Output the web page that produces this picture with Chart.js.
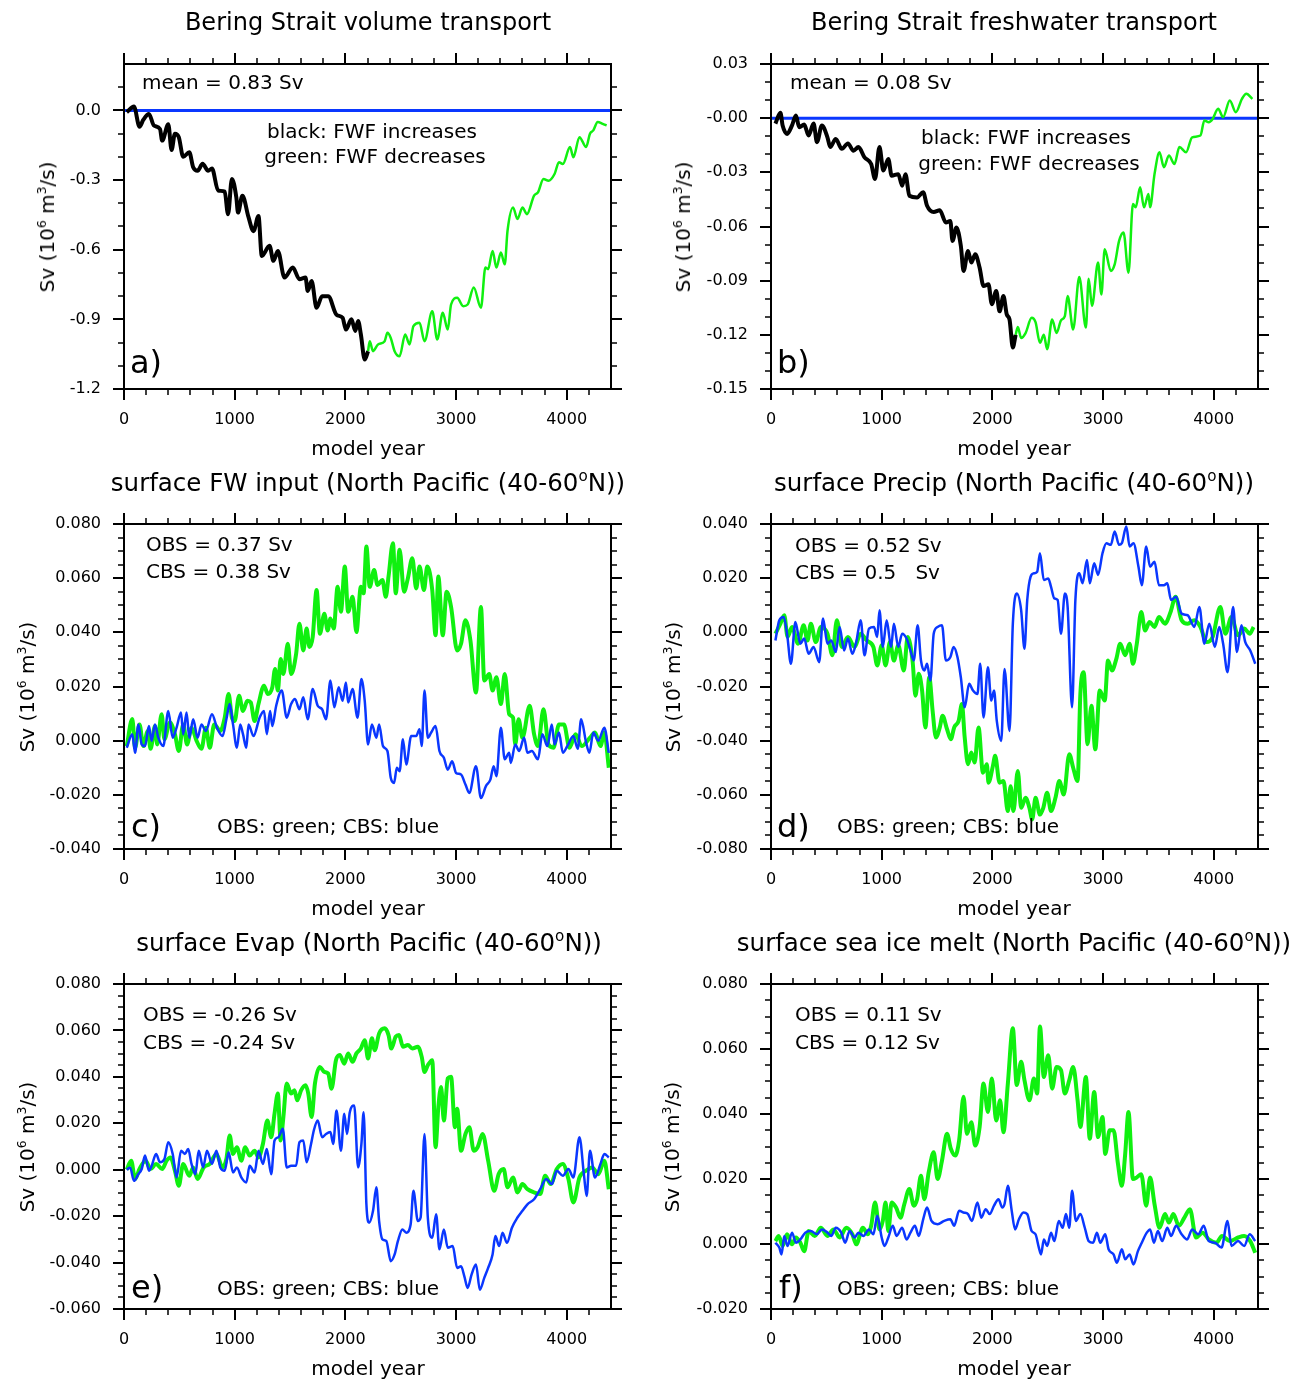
<!DOCTYPE html>
<html>
<head>
<meta charset="utf-8">
<script src="https://cdn.jsdelivr.net/npm/chart.js@4.4.1/dist/chart.umd.min.js"></script>
<style>
  body { margin: 0; background: #fff; }
  #fig { position: relative; width: 1302px; height: 1380px; overflow: hidden; }
  canvas { position: absolute; }
  .t { position: absolute; font-family: 'DejaVu Sans', sans-serif; color: #000; white-space: pre; line-height: 1; }
  .c { transform: translate(-50%, -50%); }
  .l { transform: translateY(-50%); }
  .title { font-size: 24px; }
  .title2 { font-size: 24.5px; }
  .ax { font-size: 20px; }
  .note { font-size: 20px; }
  .tag { font-size: 32px; }
  .ylab { font-size: 20px; transform: translate(-50%, -50%) rotate(-90deg); }
  sup { font-size: 0.62em; vertical-align: 0.65em; line-height: 0; }
</style>
</head>
<body>
<div id="fig">
  <canvas id="pa" width="650" height="460" style="left:0;top:0"></canvas>
  <canvas id="pb" width="652" height="460" style="left:650px;top:0"></canvas>
  <canvas id="pc" width="650" height="460" style="left:0;top:460px"></canvas>
  <canvas id="pd" width="652" height="460" style="left:650px;top:460px"></canvas>
  <canvas id="pe" width="650" height="460" style="left:0;top:920px"></canvas>
  <canvas id="pf" width="652" height="460" style="left:650px;top:920px"></canvas>

  <!-- titles -->
  <div class="t c title" style="left:368px;top:22px">Bering Strait volume transport</div>
  <div class="t c title" style="left:1014px;top:22px">Bering Strait freshwater transport</div>
  <div class="t c title2" style="left:368px;top:483px">surface FW input (North Pacific (40-60<sup>o</sup>N))</div>
  <div class="t c title2" style="left:1014px;top:483px">surface Precip (North Pacific (40-60<sup>o</sup>N))</div>
  <div class="t c title2" style="left:369px;top:943px">surface Evap (North Pacific (40-60<sup>o</sup>N))</div>
  <div class="t c title2" style="left:1014px;top:943px">surface sea ice melt (North Pacific (40-60<sup>o</sup>N))</div>

  <!-- x axis titles -->
  <div class="t c ax" style="left:368px;top:448px">model year</div>
  <div class="t c ax" style="left:1014px;top:448px">model year</div>
  <div class="t c ax" style="left:368px;top:908px">model year</div>
  <div class="t c ax" style="left:1014px;top:908px">model year</div>
  <div class="t c ax" style="left:368px;top:1368px">model year</div>
  <div class="t c ax" style="left:1014px;top:1368px">model year</div>

  <!-- y axis titles -->
  <div class="t ylab" style="left:47px;top:227px">Sv (10<sup>6</sup> m<sup>3</sup>/s)</div>
  <div class="t ylab" style="left:683px;top:227px">Sv (10<sup>6</sup> m<sup>3</sup>/s)</div>
  <div class="t ylab" style="left:27px;top:687px">Sv (10<sup>6</sup> m<sup>3</sup>/s)</div>
  <div class="t ylab" style="left:673px;top:687px">Sv (10<sup>6</sup> m<sup>3</sup>/s)</div>
  <div class="t ylab" style="left:27px;top:1147px">Sv (10<sup>6</sup> m<sup>3</sup>/s)</div>
  <div class="t ylab" style="left:672px;top:1147px">Sv (10<sup>6</sup> m<sup>3</sup>/s)</div>

  <!-- notes inside the panels -->
  <div class="t l note" style="left:142px;top:82px">mean = 0.83 Sv</div>
  <div class="t c note" style="left:372px;top:131px">black: FWF increases</div>
  <div class="t c note" style="left:375px;top:156px">green: FWF decreases</div>
  <div class="t l tag" style="left:130px;top:362px">a)</div>

  <div class="t l note" style="left:790px;top:82px">mean = 0.08 Sv</div>
  <div class="t c note" style="left:1026px;top:137px">black: FWF increases</div>
  <div class="t c note" style="left:1029px;top:163px">green: FWF decreases</div>
  <div class="t l tag" style="left:777px;top:362px">b)</div>

  <div class="t l note" style="left:146px;top:544px">OBS = 0.37 Sv</div>
  <div class="t l note" style="left:146px;top:571px">CBS = 0.38 Sv</div>
  <div class="t l note" style="left:217px;top:826px">OBS: green; CBS: blue</div>
  <div class="t l tag" style="left:131px;top:826px">c)</div>

  <div class="t l note" style="left:795px;top:545px">OBS = 0.52 Sv</div>
  <div class="t l note" style="left:795px;top:572px">CBS = 0.5   Sv</div>
  <div class="t l note" style="left:837px;top:826px">OBS: green; CBS: blue</div>
  <div class="t l tag" style="left:777px;top:826px">d)</div>

  <div class="t l note" style="left:143px;top:1014px">OBS = -0.26 Sv</div>
  <div class="t l note" style="left:143px;top:1042px">CBS = -0.24 Sv</div>
  <div class="t l note" style="left:217px;top:1288px">OBS: green; CBS: blue</div>
  <div class="t l tag" style="left:131px;top:1287px">e)</div>

  <div class="t l note" style="left:795px;top:1014px">OBS = 0.11 Sv</div>
  <div class="t l note" style="left:795px;top:1042px">CBS = 0.12 Sv</div>
  <div class="t l note" style="left:837px;top:1288px">OBS: green; CBS: blue</div>
  <div class="t l tag" style="left:779px;top:1287px">f)</div>
</div>

<script>
// ---- axis ticks ----
const xTicks = [0, 1000, 2000, 3000, 4000];
const xTickLabels = ['0', '1000', '2000', '3000', '4000'];

const aTicks = [-1.2, -0.9, -0.6, -0.3, 0.0];
const aTickLabels = ['-1.2', '-0.9', '-0.6', '-0.3', '0.0'];
const bTicks = [-0.15, -0.12, -0.09, -0.06, -0.03, 0, 0.03];
const bTickLabels = ['-0.15', '-0.12', '-0.09', '-0.06', '-0.03', '-0.00', '0.03'];
const cTicks = [-0.04, -0.02, 0, 0.02, 0.04, 0.06, 0.08];
const cTickLabels = ['-0.040', '-0.020', '0.000', '0.020', '0.040', '0.060', '0.080'];
const dTicks = [-0.08, -0.06, -0.04, -0.02, 0, 0.02, 0.04];
const dTickLabels = ['-0.080', '-0.060', '-0.040', '-0.020', '0.000', '0.020', '0.040'];
const eTicks = [-0.06, -0.04, -0.02, 0, 0.02, 0.04, 0.06, 0.08];
const eTickLabels = ['-0.060', '-0.040', '-0.020', '0.000', '0.020', '0.040', '0.060', '0.080'];
const fTicks = [-0.02, 0, 0.02, 0.04, 0.06, 0.08];
const fTickLabels = ['-0.020', '0.000', '0.020', '0.040', '0.060', '0.080'];

// ---- a) Bering Strait volume transport ----
const zeroYears = [0, 4400];
const zeroSv = [0, 0];

const aBlackYears = [25, 90, 140, 175, 225, 270, 325, 345, 400, 430,
  460, 495, 535, 590, 625, 665, 710, 760, 795, 850,
  910, 940, 975, 1015, 1030, 1070, 1125, 1170, 1215, 1245,
  1315, 1350, 1390, 1450, 1525, 1585, 1640, 1660, 1695, 1740,
  1790, 1845, 1920, 1975, 2005, 2055, 2090, 2115, 2140, 2175,
  2205];
const aBlackSv = [-0.007, 0.017, -0.07, -0.04, -0.015, -0.065, -0.08, -0.13, -0.06, -0.17,
  -0.10, -0.115, -0.20, -0.18, -0.245, -0.26, -0.23, -0.26, -0.25, -0.345,
  -0.35, -0.447, -0.295, -0.375, -0.44, -0.367, -0.46, -0.52, -0.455, -0.627,
  -0.583, -0.648, -0.605, -0.72, -0.677, -0.727, -0.72, -0.778, -0.735, -0.85,
  -0.80, -0.80, -0.88, -0.893, -0.944, -0.90, -0.95, -0.907, -0.965, -1.073,
  -1.037];
const aGreenYears = [2205, 2220, 2250, 2295, 2355, 2380, 2410, 2445, 2490, 2540,
  2580, 2615, 2670, 2715, 2785, 2830, 2880, 2925, 2955, 3010,
  3065, 3105, 3160, 3225, 3265, 3290, 3330, 3365, 3405, 3440,
  3465, 3515, 3555, 3600, 3640, 3705, 3740, 3790, 3835, 3890,
  3930, 3965, 4030, 4060, 4115, 4175, 4210, 4240, 4280, 4325,
  4360];
const aGreenSv = [-1.037, -0.994, -1.037, -1.008, -0.994, -0.958, -0.98, -1.037, -1.059, -0.965,
  -1.008, -0.929, -0.915, -0.994, -0.865, -0.987, -0.872, -0.944, -0.836, -0.807,
  -0.843, -0.836, -0.763, -0.85, -0.677, -0.684, -0.605, -0.677, -0.612, -0.663,
  -0.519, -0.418, -0.468, -0.418, -0.447, -0.367, -0.353, -0.295, -0.303, -0.274,
  -0.223, -0.231, -0.158, -0.202, -0.115, -0.158, -0.10, -0.086, -0.05, -0.058,
  -0.065];

// ---- b) Bering Strait freshwater transport ----
const bBlackYears = [40, 85, 105, 145, 190, 225, 255, 300, 340, 385,
  415, 460, 510, 535, 585, 640, 695, 745, 790, 845,
  905, 940, 980, 1015, 1060, 1090, 1150, 1185, 1215, 1250,
  1320, 1375, 1410, 1470, 1525, 1580, 1620, 1640, 1675, 1715,
  1740, 1780, 1810, 1845, 1885, 1920, 1965, 1995, 2035, 2065,
  2100, 2130, 2155, 2185, 2210];
const bBlackSv = [-0.003, 0.003, -0.004, -0.0087, -0.004, 0.0015, -0.005, -0.0035, -0.0096, -0.003,
  -0.0133, -0.004, -0.0106, -0.016, -0.0115, -0.017, -0.014, -0.018, -0.016, -0.0217,
  -0.0254, -0.0337, -0.016, -0.029, -0.0226, -0.0319, -0.031, -0.0374, -0.031, -0.043,
  -0.0439, -0.041, -0.0485, -0.052, -0.051, -0.0578, -0.0569, -0.068, -0.0606, -0.0707,
  -0.0846, -0.0735, -0.08, -0.0754, -0.0828, -0.093, -0.092, -0.103, -0.0957, -0.107,
  -0.0985, -0.1087, -0.1115, -0.127, -0.12];
const bGreenYears = [2210, 2230, 2260, 2300, 2355, 2390, 2430, 2465, 2495, 2540,
  2580, 2620, 2655, 2680, 2730, 2785, 2845, 2870, 2900, 2955,
  2985, 3015, 3070, 3105, 3145, 3185, 3230, 3270, 3295, 3335,
  3370, 3410, 3425, 3465, 3510, 3550, 3595, 3645, 3690, 3750,
  3805, 3880, 3915, 3955, 3990, 4040, 4085, 4145, 4200, 4255,
  4295, 4350];
const bGreenSv = [-0.12, -0.1157, -0.1217, -0.119, -0.1106, -0.113, -0.1244, -0.12, -0.128, -0.1115,
  -0.119, -0.112, -0.1096, -0.0985, -0.117, -0.088, -0.116, -0.089, -0.104, -0.08,
  -0.0976, -0.0726, -0.0846, -0.081, -0.068, -0.0633, -0.0856, -0.0476, -0.0494, -0.0383,
  -0.0494, -0.042, -0.0494, -0.031, -0.0189, -0.0272, -0.0207, -0.0254, -0.016, -0.0189,
  -0.0106, -0.0096, -0.0013, -0.0022, -0.0004, 0.0052, 0.0006, 0.0098, 0.0033, 0.0107,
  0.0135, 0.0107];

// ---- c) surface FW input ----
const cGreenYears = [25, 75, 100, 140, 175, 215, 240, 280, 300, 340,
  365, 415, 460, 495, 535, 570, 610, 655, 700, 740,
  775, 815, 870, 910, 945, 975, 1000, 1040, 1075, 1115,
  1145, 1180, 1215, 1265, 1300, 1340, 1365, 1390, 1415, 1440,
  1480, 1510, 1555, 1585, 1620, 1650, 1675, 1705, 1740, 1770,
  1810, 1840, 1865, 1895, 1930, 1960, 1995, 2025, 2065, 2100,
  2140, 2165, 2190, 2220, 2260, 2290, 2335, 2365, 2390, 2430,
  2455, 2490, 2530, 2565, 2605, 2640, 2670, 2710, 2740, 2785,
  2815, 2840, 2880, 2915, 2955, 3010, 3045, 3085, 3130, 3180,
  3225, 3255, 3300, 3330, 3365, 3405, 3440, 3480, 3515, 3535,
  3565, 3600, 3665, 3705, 3740, 3790, 3835, 3880, 3930, 3975,
  4025, 4080, 4135, 4210, 4255, 4305, 4340, 4380];
const cGreenSv = [-0.002, 0.008, -0.0026, 0.006, -0.002, 0.0036, -0.003, 0.0054, -0.0014, 0.0098,
  0.0005, 0.0067, 0.0024, -0.0038, 0.006, -0.0014, 0.0048, 0.0, -0.003, 0.0048,
  -0.0026, 0.006, 0.0036, 0.0085, 0.0172, 0.0085, 0.0073, 0.0166, 0.011, 0.0147,
  0.0141, 0.0073, 0.0135, 0.0203, 0.0172, 0.0197, 0.0265, 0.0185, 0.0302, 0.0246,
  0.0358, 0.0246, 0.032, 0.0432, 0.0333, 0.0414, 0.0346, 0.0383, 0.0556, 0.0395,
  0.0469, 0.0407, 0.0451, 0.0414, 0.0568, 0.0476, 0.0643, 0.0476, 0.0531, 0.0401,
  0.0568, 0.0544, 0.0717, 0.0568, 0.063, 0.0575, 0.0593, 0.0531, 0.0606, 0.0729,
  0.0544, 0.0705, 0.055, 0.06, 0.0674, 0.0562, 0.0643, 0.0556, 0.0643, 0.0556,
  0.0389, 0.0606, 0.0389, 0.055, 0.0494, 0.0333, 0.0358, 0.0445, 0.037, 0.0178,
  0.0494, 0.0222, 0.0246, 0.0185, 0.0234, 0.0135, 0.0246, 0.0098, 0.0085, -0.0014,
  0.0079, 0.0011, 0.0129, 0.0024, -0.002, 0.0116, -0.0014, -0.0026, 0.006, 0.006,
  -0.0026, 0.0024, -0.002, 0.0011, 0.003, -0.002, 0.003, -0.01];
const cBlueYears = [25, 75, 100, 130, 160, 190, 225, 250, 280, 310,
  355, 400, 440, 475, 515, 535, 565, 590, 625, 665,
  700, 740, 795, 840, 890, 925, 955, 985, 1020, 1050,
  1075, 1105, 1125, 1170, 1225, 1265, 1290, 1320, 1340, 1375,
  1425, 1470, 1510, 1545, 1585, 1620, 1660, 1705, 1750, 1790,
  1825, 1865, 1900, 1940, 1975, 2005, 2025, 2065, 2110, 2145,
  2175, 2205, 2240, 2280, 2305, 2340, 2380, 2410, 2440, 2465,
  2490, 2520, 2550, 2595, 2640, 2670, 2690, 2715, 2745, 2775,
  2815, 2850, 2890, 2925, 2965, 3000, 3045, 3085, 3120, 3180,
  3225, 3270, 3310, 3340, 3365, 3405, 3440, 3480, 3495, 3535,
  3570, 3615, 3645, 3685, 3740, 3780, 3825, 3865, 3890, 3930,
  3965, 4005, 4060, 4100, 4130, 4175, 4205, 4240, 4285, 4340,
  4380];
const cBlueSv = [-0.0026, 0.0024, -0.0045, 0.006, -0.0014, -0.002, 0.0054, 0.0, 0.006, 0.0011,
  -0.002, 0.011, 0.0011, 0.0048, 0.0104, 0.0024, 0.0104, 0.0011, 0.0079, 0.0011,
  0.006, 0.0036, 0.0098, 0.0048, 0.0017, 0.0079, 0.0135, 0.006, -0.0026, 0.006,
  0.0024, -0.0026, 0.006, 0.0017, 0.0085, 0.011, 0.0024, 0.011, 0.0054, 0.0129,
  0.0185, 0.0085, 0.0135, 0.0154, 0.0116, 0.016, 0.0079, 0.0191, 0.0129, 0.0116,
  0.0079, 0.0222, 0.0123, 0.0197, 0.0147, 0.0215, 0.0141, 0.0191, 0.0085, 0.0228,
  0.0147, -0.0014, 0.006, 0.0011, 0.006, -0.002, -0.0038, -0.0137, -0.0156, -0.01,
  -0.0113, 0.0005, -0.0088, 0.0017, 0.0017, 0.0042, -0.002, 0.0185, 0.0011, 0.003,
  0.0054, -0.0038, -0.0063, -0.0107, -0.0076, -0.0119, -0.0125, -0.0162, -0.0193, -0.0094,
  -0.0212, -0.0168, -0.0144, -0.0094, -0.0131, 0.0048, -0.0069, -0.0045, -0.0082, -0.0014,
  -0.0038, 0.0011, -0.0045, -0.0038, -0.0069, 0.0024, -0.002, 0.006, -0.0014, 0.003,
  -0.0045, -0.002, 0.0017, -0.003, 0.0079, -0.0007, -0.0045, 0.003, 0.0, 0.0048,
  -0.0045];

// ---- d) surface Precip ----
const dGreenYears = [40, 85, 120, 150, 190, 245, 295, 330, 360, 405,
  450, 510, 555, 595, 640, 695, 755, 810, 865, 925,
  960, 1000, 1035, 1075, 1110, 1150, 1200, 1235, 1280, 1305,
  1335, 1365, 1395, 1430, 1460, 1490, 1525, 1550, 1590, 1625,
  1655, 1695, 1725, 1750, 1780, 1810, 1840, 1875, 1915, 1950,
  1965, 2005, 2025, 2065, 2100, 2140, 2165, 2190, 2230, 2260,
  2300, 2335, 2360, 2390, 2430, 2460, 2495, 2530, 2570, 2605,
  2645, 2695, 2730, 2770, 2795, 2825, 2860, 2895, 2930, 2970,
  3015, 3045, 3080, 3120, 3155, 3200, 3240, 3270, 3305, 3345,
  3380, 3420, 3465, 3505, 3560, 3610, 3655, 3710, 3765, 3825,
  3880, 3935, 3990, 4060, 4105, 4160, 4220, 4275, 4325, 4360];
const dGreenSv = [-0.0005, 0.0032, 0.0063, -0.0017, 0.002, -0.0042, 0.0026, -0.003, 0.0032, -0.0036,
  0.002, -0.0005, -0.0085, 0.0045, -0.0054, -0.0017, -0.0054, -0.0005, -0.003, -0.0054,
  -0.0122, -0.0048, -0.0122, -0.0036, -0.0104, -0.0048, -0.0141, -0.0017, -0.011, -0.0234,
  -0.0153, -0.0215, -0.0351, -0.0166, -0.0289, -0.0388, -0.0351, -0.0308, -0.0357, -0.0395,
  -0.0351, -0.0327, -0.0265, -0.0388, -0.0487, -0.0444, -0.0481, -0.0351, -0.0518, -0.0487,
  -0.0555, -0.0493, -0.0456, -0.0555, -0.0549, -0.066, -0.0568, -0.066, -0.0512, -0.0648,
  -0.0611, -0.0648, -0.0691, -0.0611, -0.0673, -0.0648, -0.0592, -0.066, -0.0611, -0.0549,
  -0.0599, -0.045, -0.05, -0.0549, -0.0228, -0.0147, -0.0413, -0.0271, -0.0432, -0.0215,
  -0.0252, -0.0104, -0.0141, -0.0098, -0.0042, -0.0085, -0.0042, -0.0116, -0.0042, 0.0075,
  0.0007, 0.0038, 0.002, 0.0057, 0.0032, 0.0075, 0.0131, 0.0045, 0.0032, 0.0045,
  0.002, -0.0036, -0.0017, 0.0094, -0.0005, 0.0057, -0.0011, 0.0014, -0.0005, 0.002];
const dBlueYears = [40, 75, 115, 145, 180, 220, 265, 300, 340, 385,
  435, 470, 510, 545, 585, 620, 660, 695, 735, 770,
  810, 845, 885, 930, 960, 980, 1010, 1045, 1085, 1110,
  1150, 1185, 1225, 1260, 1290, 1325, 1355, 1385, 1410, 1440,
  1470, 1505, 1545, 1580, 1620, 1650, 1685, 1715, 1750, 1790,
  1825, 1865, 1890, 1920, 1960, 1990, 2015, 2040, 2080, 2110,
  2155, 2185, 2220, 2260, 2290, 2315, 2345, 2375, 2405, 2430,
  2465, 2505, 2530, 2560, 2590, 2620, 2655, 2680, 2720, 2750,
  2785, 2815, 2855, 2880, 2920, 2955, 2995, 3030, 3070, 3105,
  3145, 3170, 3210, 3240, 3275, 3320, 3350, 3390, 3425, 3465,
  3505, 3550, 3580, 3615, 3660, 3710, 3765, 3825, 3870, 3915,
  3960, 4010, 4050, 4085, 4125, 4175, 4210, 4250, 4285, 4330,
  4375];
const dBlueSv = [-0.003, 0.0045, 0.0057, -0.0005, -0.0116, 0.0038, -0.0042, -0.0023, -0.0079, -0.0054,
  -0.011, 0.0051, -0.0042, -0.003, -0.0073, 0.002, -0.0067, -0.0023, -0.0079, -0.0036,
  0.0045, -0.0085, 0.0014, 0.002, -0.0017, 0.0082, -0.0054, 0.0045, -0.0054, 0.0032,
  -0.0054, -0.0005, -0.0023, -0.0067, -0.0104, 0.0026, -0.0104, -0.0141, -0.0116, -0.0178,
  -0.0005, 0.002, 0.0026, -0.0104, -0.0092, -0.0054, -0.0092, -0.0166, -0.0277, -0.019,
  -0.0215, -0.0228, -0.0116, -0.0314, -0.0129, -0.0252, -0.0215, -0.0327, -0.0401, -0.0135,
  -0.0364, 0.0032, 0.0143, 0.0082, -0.0061, 0.0119, 0.0205, 0.0218, 0.0224, 0.0292,
  0.0193, 0.0199, 0.0168, 0.0125, 0.0119, -0.0005, 0.0143, 0.0094, -0.0277, 0.0119,
  0.0218, 0.0181, 0.0267, 0.0181, 0.0255, 0.0212, 0.0292, 0.0329, 0.0323, 0.0372,
  0.0323, 0.0329, 0.0391, 0.0317, 0.0329, 0.0242, 0.0174, 0.0317, 0.0242, 0.0261,
  0.0174, 0.0174, 0.0181, 0.0119, 0.0131, 0.0069, 0.0063, 0.002, 0.0094, -0.0042,
  0.0032, -0.0054, 0.002, -0.0042, -0.0147, 0.0094, -0.0073, 0.0026, -0.0036, -0.0067,
  -0.0116];

// ---- e) surface Evap ----
const eGreenYears = [25, 65, 100, 140, 195, 240, 290, 345, 385, 420,
  460, 495, 535, 590, 625, 665, 720, 775, 835, 890,
  925, 955, 985, 1020, 1060, 1095, 1135, 1180, 1215, 1255,
  1295, 1330, 1360, 1390, 1415, 1440, 1470, 1510, 1540, 1565,
  1600, 1640, 1665, 1695, 1725, 1770, 1810, 1845, 1875, 1915,
  1950, 1990, 2025, 2065, 2100, 2140, 2175, 2205, 2240, 2265,
  2305, 2355, 2390, 2415, 2455, 2485, 2520, 2565, 2605, 2655,
  2690, 2715, 2745, 2785, 2815, 2840, 2865, 2890, 2925, 2955,
  2990, 3010, 3045, 3085, 3120, 3160, 3195, 3240, 3290, 3345,
  3385, 3430, 3465, 3515, 3555, 3600, 3645, 3705, 3760, 3805,
  3855, 3910, 3965, 4015, 4060, 4115, 4175, 4230, 4285, 4340,
  4380];
const eGreenSv = [0.0, 0.0039, -0.004, 0.0003, 0.0039, 0.0003, 0.0025, 0.0003, 0.0039, 0.0053,
  -0.0004, -0.0069, 0.0025, -0.0026, 0.001, -0.004, 0.001, 0.0025, 0.0068, 0.001,
  0.0046, 0.0147, 0.0068, 0.0097, 0.0039, 0.0097, 0.0061, 0.0082, 0.0053, 0.0111,
  0.0212, 0.014, 0.0241, 0.0328, 0.0126, 0.0227, 0.0371, 0.0328, 0.0342, 0.0299,
  0.0342, 0.0364, 0.0328, 0.0227, 0.0371, 0.0443, 0.0421, 0.0414, 0.0349, 0.0472,
  0.0494, 0.0457, 0.0501, 0.0465, 0.0501, 0.0522, 0.0558, 0.0479, 0.0566, 0.0515,
  0.0587, 0.0609, 0.058, 0.0522, 0.0573, 0.058, 0.053, 0.0537, 0.0522, 0.053,
  0.0486, 0.0421, 0.045, 0.0472, 0.0097, 0.027, 0.0356, 0.0212, 0.0393, 0.04,
  0.0183, 0.0263, 0.0082, 0.0154, 0.0183, 0.0082, 0.0097, 0.0154, 0.0039, -0.0091,
  -0.0019, 0.0003, -0.0076, -0.0033, -0.0098, -0.0062, -0.0084, -0.0098, -0.0105, -0.0026,
  -0.0062, 0.0003, 0.0025, -0.004, -0.0141, -0.0033, -0.0004, 0.001, -0.0019, 0.0039,
  -0.0084];
const eBlueYears = [25, 55, 90, 130, 160, 190, 225, 250, 290, 325,
  365, 400, 440, 475, 515, 550, 580, 610, 645, 675,
  715, 750, 795, 835, 870, 910, 945, 985, 1020, 1060,
  1105, 1135, 1180, 1215, 1255, 1290, 1330, 1360, 1395, 1435,
  1470, 1510, 1555, 1585, 1620, 1650, 1690, 1715, 1750, 1790,
  1825, 1865, 1890, 1920, 1960, 1990, 2015, 2040, 2080, 2115,
  2145, 2165, 2190, 2215, 2250, 2280, 2305, 2335, 2370, 2410,
  2445, 2475, 2515, 2550, 2590, 2615, 2655, 2680, 2715, 2745,
  2785, 2820, 2850, 2890, 2925, 2970, 3010, 3045, 3075, 3105,
  3140, 3180, 3215, 3255, 3290, 3330, 3355, 3390, 3420, 3460,
  3505, 3555, 3600, 3645, 3705, 3760, 3815, 3865, 3910, 3965,
  4015, 4060, 4115, 4155, 4180, 4210, 4255, 4305, 4340, 4380];
const eBlueSv = [0.0, 0.001, -0.0048, -0.0019, 0.0003, 0.0061, -0.0004, 0.0017, 0.0068, 0.0032,
  0.0046, 0.0118, 0.0068, -0.0033, 0.0082, 0.0068, 0.0089, 0.0025, -0.0019, 0.0082,
  0.001, 0.0082, 0.0025, 0.0082, 0.001, -0.0004, 0.0075, -0.0012, 0.001, -0.0033,
  -0.0055, 0.0017, -0.0012, 0.0082, 0.0025, 0.0089, -0.0019, 0.0126, 0.014, 0.0176,
  0.001, 0.0017, 0.0017, 0.0118, 0.0126, 0.0032, 0.0111, 0.0169, 0.0212, 0.014,
  0.0154, 0.0162, 0.0111, 0.0255, 0.0082, 0.0241, 0.0154, 0.0248, 0.0277, 0.001,
  0.0111, 0.0248, -0.0149, -0.0228, -0.0177, -0.0076, -0.0221, -0.03, -0.0307, -0.0394,
  -0.0365, -0.0307, -0.0257, -0.0271, -0.0235, -0.0091, -0.0221, -0.0206, 0.0154, -0.0206,
  -0.0293, -0.0192, -0.0343, -0.0257, -0.0336, -0.0329, -0.0423, -0.0416, -0.0459, -0.0509,
  -0.0452, -0.0408, -0.0517, -0.0466, -0.0423, -0.0365, -0.0286, -0.0329, -0.0271, -0.0315,
  -0.025, -0.0206, -0.0177, -0.0149, -0.0127, -0.0084, -0.004, -0.0062, -0.0004, -0.0026,
  0.0003, -0.0033, 0.014, -0.0019, -0.0113, 0.0082, -0.0033, 0.0025, 0.0068, 0.0053];

// ---- f) surface sea ice melt ----
const fGreenYears = [40, 70, 105, 145, 190, 225, 265, 300, 340, 395,
  450, 510, 565, 620, 680, 735, 770, 830, 875, 905,
  940, 980, 1010, 1035, 1060, 1090, 1130, 1170, 1205, 1250,
  1290, 1320, 1355, 1385, 1425, 1470, 1505, 1545, 1590, 1625,
  1665, 1700, 1740, 1770, 1810, 1845, 1885, 1920, 1960, 1995,
  2035, 2070, 2100, 2140, 2185, 2220, 2260, 2290, 2335, 2375,
  2405, 2430, 2465, 2505, 2540, 2580, 2620, 2655, 2695, 2730,
  2770, 2795, 2845, 2880, 2920, 2955, 2995, 3020, 3060, 3095,
  3135, 3170, 3200, 3230, 3270, 3305, 3345, 3390, 3425, 3465,
  3510, 3560, 3595, 3635, 3685, 3735, 3785, 3840, 3900, 3955,
  4025, 4075, 4145, 4220, 4275, 4330, 4375];
const fGreenSv = [0.0009, 0.0025, -0.0006, 0.003, -0.0001, 0.002, 0.0004, -0.0022, 0.004, 0.0025,
  0.005, 0.0025, 0.0045, 0.002, 0.005, 0.003, -0.0001, 0.005, 0.003, 0.0056,
  0.0128, 0.0045, 0.0071, 0.0128, 0.004, 0.0128, 0.0112, 0.0081, 0.0123, 0.0169,
  0.0118, 0.0138, 0.021, 0.0138, 0.0221, 0.0282, 0.02, 0.0257, 0.0339, 0.0293,
  0.0272, 0.0319, 0.0453, 0.0339, 0.0375, 0.0303, 0.036, 0.0494, 0.0406, 0.0509,
  0.038, 0.0442, 0.0344, 0.0494, 0.0664, 0.0489, 0.0561, 0.0504, 0.0442, 0.0509,
  0.0463, 0.0669, 0.0514, 0.0581, 0.0478, 0.0545, 0.0535, 0.0463, 0.0504, 0.0545,
  0.0442, 0.036, 0.0514, 0.0324, 0.0468, 0.0329, 0.0391, 0.0277, 0.035, 0.035,
  0.0246, 0.0179, 0.0277, 0.0406, 0.02, 0.0205, 0.0215, 0.0118, 0.0205, 0.0123,
  0.005, 0.0092, 0.0066, 0.0092, 0.0056, 0.0081, 0.0107, 0.002, 0.0035, 0.0014,
  0.0004, 0.0025, 0.0009, 0.002, 0.0025, 0.0009, -0.0027];
const fBlueYears = [40, 75, 95, 120, 150, 190, 225, 265, 310, 360,
  415, 460, 510, 545, 585, 635, 670, 710, 755, 790,
  835, 885, 925, 960, 1000, 1025, 1060, 1100, 1135, 1185,
  1225, 1260, 1300, 1335, 1375, 1410, 1450, 1505, 1565, 1620,
  1655, 1700, 1740, 1780, 1815, 1865, 1900, 1940, 1975, 2015,
  2055, 2090, 2110, 2140, 2175, 2205, 2240, 2280, 2315, 2355,
  2390, 2420, 2440, 2465, 2495, 2530, 2560, 2600, 2635, 2665,
  2695, 2720, 2755, 2795, 2835, 2870, 2910, 2945, 2975, 3020,
  3050, 3095, 3125, 3170, 3200, 3240, 3275, 3315, 3350, 3395,
  3425, 3460, 3495, 3535, 3580, 3615, 3660, 3710, 3760, 3805,
  3860, 3910, 3955, 4010, 4070, 4125, 4160, 4220, 4275, 4325,
  4375];
const fBlueSv = [0.0004, -0.0011, -0.0032, 0.0025, -0.0006, 0.0035, 0.0004, 0.0014, 0.0035, 0.004,
  0.003, 0.0045, 0.0035, 0.0025, 0.005, 0.0035, 0.0004, 0.004, 0.002, 0.0035,
  0.0025, 0.0045, 0.003, 0.0087, 0.002, -0.0006, 0.002, 0.0056, 0.0025, 0.005,
  0.0014, 0.0035, 0.0056, 0.0025, 0.0076, 0.0112, 0.0071, 0.0061, 0.0071, 0.0076,
  0.0056, 0.0102, 0.0097, 0.0092, 0.0071, 0.0128, 0.0081, 0.0107, 0.0092, 0.0118,
  0.0138, 0.0112, 0.0123, 0.0179, 0.0102, 0.0045, 0.0076, 0.0097, 0.0092, 0.004,
  0.003, -0.0011, -0.0032, 0.0014, -0.0006, 0.0035, 0.0009, 0.0071, 0.005, 0.0092,
  0.005, 0.0164, 0.0071, 0.0092, 0.005, 0.0009, 0.0004, 0.0035, 0.0004, 0.003,
  -0.0016, -0.0032, -0.0058, -0.0016, -0.0047, -0.0032, -0.0063, -0.0022, 0.0004, 0.0035,
  0.0045, 0.0004, 0.004, 0.0009, 0.005, 0.0025, 0.0056, 0.003, 0.0014, 0.0045,
  0.003, 0.0056, 0.0009, 0.0004, -0.0011, 0.0071, -0.0006, 0.0009, -0.0006, 0.003,
  0.0009];

// colours used by the original NCL plot
const GREEN = '#10f010';
const BLUE = '#0a37ff';
const BLACK = '#000000';

Chart.defaults.font.family = "'DejaVu Sans', sans-serif";
Chart.defaults.color = '#000';

function points(years, values) {
    return years.map((yr, i) => ({ x: yr, y: values[i] }));
}

// draws the box around the plot and the outward major / minor ticks on all four sides
const frameTicks = {
    id: 'frameTicks',
    afterDatasetsDraw(chart, args, opts) {
        const { ctx, chartArea: a, scales: { x, y } } = chart;
        const major = 11, minor = 6;
        ctx.save();
        ctx.strokeStyle = '#000';

        function tick(v, len, axis) {
            if (axis === 'x') {
                const px = Math.round(x.getPixelForValue(v));
                ctx.moveTo(px, a.bottom); ctx.lineTo(px, a.bottom + len);
                ctx.moveTo(px, a.top); ctx.lineTo(px, a.top - len);
            } else {
                const py = Math.round(y.getPixelForValue(v));
                ctx.moveTo(a.left, py); ctx.lineTo(a.left - len, py);
                ctx.moveTo(a.right, py); ctx.lineTo(a.right + len, py);
            }
        }

        // minor ticks
        ctx.beginPath();
        ctx.lineWidth = 1.5;
        for (let k = 1; k * opts.xMinor < x.max; k++) tick(k * opts.xMinor, minor, 'x');
        for (let k = 1; y.min + k * opts.yMinor < y.max - 1e-9; k++) tick(y.min + k * opts.yMinor, minor, 'y');
        ctx.stroke();

        // major ticks
        ctx.beginPath();
        ctx.lineWidth = 2;
        x.ticks.forEach(t => tick(t.value, major, 'x'));
        y.ticks.forEach(t => tick(t.value, major, 'y'));
        ctx.stroke();

        // frame
        ctx.lineWidth = 2;
        ctx.strokeRect(a.left, a.top, a.right - a.left, a.bottom - a.top);
        ctx.restore();
    }
};

function makePanel(canvasId, side, yMin, yMax, yTicks, yTickLabels, yMinor, datasets) {
    // the y axis box runs from the canvas edge to the plot, so its labels are never clipped
    const yWidth = side === 'left' ? 124 : 121;
    const padRight = side === 'left' ? 39 : 44;
    return new Chart(document.getElementById(canvasId), {
        type: 'line',
        data: { datasets: datasets },
        plugins: [frameTicks],
        options: {
            responsive: false,
            animation: false,
            devicePixelRatio: 1,
            layout: { padding: { left: 0, right: padRight, top: 64, bottom: 0 } },
            elements: { point: { radius: 0 }, line: { cubicInterpolationMode: 'monotone' } },
            plugins: {
                legend: { display: false },
                tooltip: { enabled: false },
                frameTicks: { xMinor: 200, yMinor: yMinor }
            },
            scales: {
                x: {
                    type: 'linear', min: 0, max: 4400,
                    grid: { display: false, drawTicks: false },
                    border: { display: false },
                    afterBuildTicks: s => { s.ticks = xTicks.map(v => ({ value: v })); },
                    afterFit: s => { s.height = 71; },
                    ticks: {
                        autoSkip: false, maxRotation: 0, padding: 21,
                        font: { size: 16 },
                        callback: (v, i) => xTickLabels[i]
                    }
                },
                y: {
                    type: 'linear', min: yMin, max: yMax,
                    grid: { display: false, drawTicks: false },
                    border: { display: false },
                    afterBuildTicks: s => { s.ticks = yTicks.map(v => ({ value: v })); },
                    afterFit: s => { s.width = yWidth; },
                    ticks: {
                        autoSkip: false, padding: 23,
                        font: { size: 16 },
                        callback: (v, i) => yTickLabels[i]
                    }
                }
            }
        }
    });
}

function fwfSet(years, values, color, width, order) {
    return { data: points(years, values), borderColor: color, borderWidth: width, order: order, fill: false };
}

makePanel('pa', 'left', -1.2, 0.2, aTicks, aTickLabels, 0.1, [
    fwfSet(aBlackYears, aBlackSv, BLACK, 4, 0),
    fwfSet(aGreenYears, aGreenSv, GREEN, 2.5, 0),
    fwfSet(zeroYears, zeroSv, BLUE, 3, 1)
]);
makePanel('pb', 'right', -0.15, 0.03, bTicks, bTickLabels, 0.01, [
    fwfSet(bBlackYears, bBlackSv, BLACK, 4, 0),
    fwfSet(bGreenYears, bGreenSv, GREEN, 2.5, 0),
    fwfSet(zeroYears, zeroSv, BLUE, 3, 1)
]);
makePanel('pc', 'left', -0.04, 0.08, cTicks, cTickLabels, 0.005, [
    fwfSet(cBlueYears, cBlueSv, BLUE, 2.5, 0),
    fwfSet(cGreenYears, cGreenSv, GREEN, 4, 1)
]);
makePanel('pd', 'right', -0.08, 0.04, dTicks, dTickLabels, 0.005, [
    fwfSet(dBlueYears, dBlueSv, BLUE, 2.5, 0),
    fwfSet(dGreenYears, dGreenSv, GREEN, 4, 1)
]);
makePanel('pe', 'left', -0.06, 0.08, eTicks, eTickLabels, 0.005, [
    fwfSet(eBlueYears, eBlueSv, BLUE, 2.5, 0),
    fwfSet(eGreenYears, eGreenSv, GREEN, 4, 1)
]);
makePanel('pf', 'right', -0.02, 0.08, fTicks, fTickLabels, 0.005, [
    fwfSet(fBlueYears, fBlueSv, BLUE, 2.5, 0),
    fwfSet(fGreenYears, fGreenSv, GREEN, 4, 1)
]);
</script>
</body>
</html>
